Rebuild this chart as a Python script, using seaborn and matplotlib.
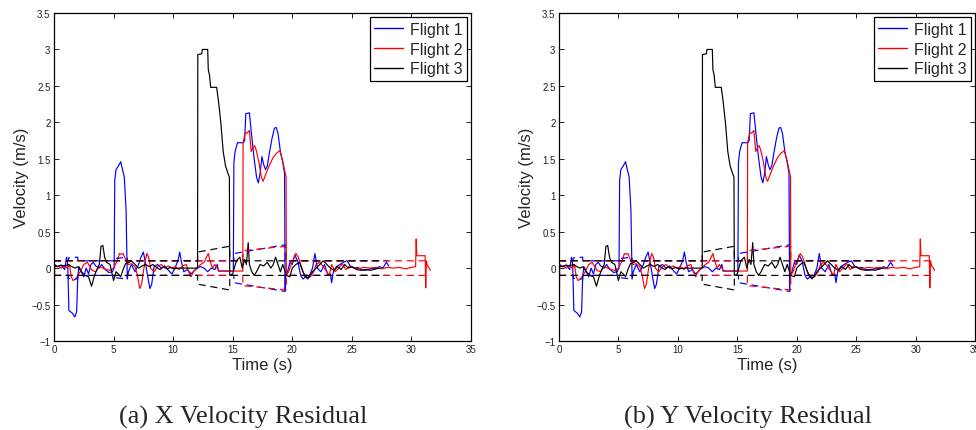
import matplotlib
matplotlib.use("Agg")
import matplotlib.pyplot as plt
import numpy as np
import pandas as pd
import seaborn as sns

# ---- data (both panels show the same traces) ----
flight1_t = [0.0, 0.05, 0.3, 0.6, 0.9, 1.05, 1.15, 1.25, 1.4, 1.55,
             1.75, 1.9, 2.0, 2.1, 2.3, 2.5, 2.7, 2.9, 3.1, 3.3,
             3.5, 3.8, 4.0, 4.3, 4.6, 4.9, 5.05, 5.1, 5.2, 5.4,
             5.6, 5.75, 5.9, 6.05, 6.15, 6.25, 6.5, 6.8, 7.1, 7.3,
             7.5, 7.7, 7.9, 8.05, 8.2, 8.4, 8.7, 9.0, 9.3, 9.6,
             9.9, 10.2, 10.4, 10.55, 10.7, 10.9, 11.2, 11.5, 11.8, 12.0,
             12.3, 12.6, 12.9, 13.2, 13.5, 13.7, 13.8, 15.05, 15.1, 15.2,
             15.4, 15.9, 16.0, 16.1, 16.4, 16.6, 16.8, 17.0, 17.15, 17.3,
             17.45, 17.6, 17.75, 17.9, 18.1, 18.3, 18.5, 18.65, 18.8, 19.0,
             19.2, 19.35, 19.4, 19.45, 19.6, 19.8, 20.0, 20.2, 20.45, 20.7,
             20.9, 21.1, 21.3, 21.5, 21.7, 21.9, 22.1, 22.4, 22.7, 23.0,
             23.2, 23.3, 23.45, 23.7, 24.0, 24.3, 24.6, 24.9, 25.2, 25.5,
             25.8, 26.1, 26.4, 26.7, 27.0, 27.3, 27.6, 27.9, 28.1]
flight1_v = [-0.2, 0.05, 0.02, 0.04, -0.02, 0.15, 0.05, -0.58, -0.6, -0.62,
             -0.67, -0.6, -0.1, 0.02, -0.05, -0.12, 0.0, -0.08, 0.05, 0.08,
             0.03, 0.0, 0.05, -0.02, -0.06, -0.05, 0.0, 1.2, 1.35, 1.4,
             1.46, 1.35, 1.25, 0.8, -0.15, -0.05, 0.05, -0.05, 0.05, 0.15,
             0.22, 0.05, -0.15, -0.28, -0.22, 0.02, 0.05, 0.0, 0.03, -0.03,
             -0.08, 0.02, 0.1, 0.22, 0.08, -0.05, -0.02, -0.08, -0.03, 0.0,
             0.02, 0.0, -0.05, 0.0, -0.02, 0.05, -0.04, -0.04, 1.45, 1.6,
             1.72, 1.72, 1.75, 2.12, 2.13, 1.8, 1.5, 1.25, 1.17, 1.3,
             1.53, 1.42, 1.35, 1.4, 1.6, 1.78, 1.92, 1.93, 1.85, 1.6,
             1.45, 1.3, -0.3, -0.1, -0.05, 0.08, 0.05, 0.18, 0.1, -0.1,
             -0.15, -0.12, -0.15, -0.08, 0.0, 0.2, 0.0, -0.05, 0.05, -0.1,
             -0.08, -0.2, -0.05, 0.02, 0.05, 0.08, 0.1, 0.02, 0.0, 0.01,
             -0.02, -0.03, -0.02, 0.0, -0.01, 0.02, 0.0, 0.08, 0.03]

flight2_t = [0.0, 0.03, 0.06, 0.3, 0.6, 0.9, 1.1, 1.3, 1.45, 1.6,
             1.8, 2.0, 2.2, 2.5, 2.8, 3.0, 3.2, 3.5, 3.8, 4.1,
             4.4, 4.7, 5.0, 5.3, 5.5, 5.65, 5.8, 6.0, 6.2, 6.5,
             6.8, 7.0, 7.2, 7.35, 7.5, 7.65, 7.8, 7.95, 8.1, 8.4,
             8.7, 9.0, 9.3, 9.6, 9.9, 10.2, 10.5, 10.8, 11.1, 11.3,
             11.5, 11.7, 12.0, 12.3, 12.6, 12.8, 12.95, 13.1, 13.3, 13.5,
             13.7, 13.85, 15.85, 15.87, 16.05, 16.2, 16.4, 16.55, 16.7, 16.85,
             17.0, 17.2, 17.4, 17.55, 17.8, 18.1, 18.4, 18.7, 18.95, 19.15,
             19.35, 19.48, 19.5, 19.7, 19.9, 20.1, 20.3, 20.5, 20.7, 20.9,
             21.1, 21.3, 21.5, 21.8, 22.0, 22.3, 22.6, 22.9, 23.1, 23.3,
             23.6, 23.9, 24.2, 24.5, 24.8, 25.1, 25.5, 26.0, 26.5, 27.0,
             27.5, 28.0, 28.5, 29.0, 29.5, 30.0, 30.35, 30.4, 30.45, 30.55,
             31.15, 31.2, 31.25, 31.35, 31.5, 31.6]
flight2_v = [0.47, -0.5, 0.02, 0.03, 0.0, 0.04, 0.0, 0.05, -0.12, -0.17,
             -0.15, -0.1, -0.05, 0.05, 0.08, 0.02, -0.03, -0.05, 0.02, 0.0,
             -0.02, -0.03, 0.0, 0.1, 0.2, 0.19, 0.2, 0.12, 0.05, 0.06,
             0.02, -0.1, -0.28, -0.22, -0.05, 0.1, 0.2, 0.15, 0.0, -0.05,
             0.02, 0.05, 0.0, 0.03, 0.0, 0.02, -0.02, 0.03, 0.05, -0.05,
             -0.12, -0.05, 0.0, 0.05, 0.08, 0.15, 0.2, 0.1, 0.0, 0.05,
             0.0, -0.04, -0.04, 1.72, 1.86, 1.85, 1.89, 1.6, 1.65, 1.68,
             1.6, 1.45, 1.25, 1.19, 1.3, 1.42, 1.52, 1.58, 1.61, 1.5,
             1.35, 1.25, -0.1, -0.05, 0.05, 0.12, 0.2, 0.15, 0.05, -0.05,
             -0.12, -0.1, -0.12, -0.05, 0.05, 0.08, 0.02, -0.05, -0.1, 0.05,
             -0.05, 0.0, 0.06, -0.02, 0.03, 0.01, -0.01, 0.01, 0.0, 0.01,
             -0.01, 0.01, 0.0, 0.01, -0.01, 0.01, 0.02, 0.4, 0.17, 0.17,
             0.17, -0.27, 0.1, 0.03, 0.0, -0.03]

flight3_t = [0.0, 0.03, 0.3, 0.6, 0.9, 1.2, 1.5, 1.8, 2.0, 2.3,
             2.6, 2.9, 3.15, 3.4, 3.6, 3.8, 3.95, 4.1, 4.25, 4.4,
             4.7, 5.0, 5.2, 5.4, 5.6, 5.8, 6.0, 6.3, 6.5, 6.8,
             7.1, 7.4, 7.7, 8.0, 8.3, 8.6, 8.9, 9.2, 9.5, 9.8,
             10.1, 10.5, 11.0, 11.5, 12.05, 12.07, 12.4, 12.45, 12.9, 12.95,
             13.05, 13.15, 13.65, 13.8, 14.0, 14.2, 14.4, 14.6, 14.72, 14.75,
             15.0, 15.3, 15.6, 15.8, 16.0, 16.15, 16.3, 16.4, 16.6, 16.8,
             17.0, 17.3, 17.6, 17.9, 18.2, 18.4, 18.6, 18.8, 19.0, 19.2,
             19.5, 19.8, 20.0, 20.3, 20.6, 20.9, 21.1, 21.4, 21.7, 22.0,
             22.3, 22.6, 22.9, 23.2, 23.5, 23.8, 24.1, 24.4, 24.7, 25.0,
             25.4, 25.8, 26.2, 26.6, 27.0, 27.3]
flight3_v = [-0.45, 0.03, 0.02, 0.04, 0.03, 0.05, 0.02, 0.0, 0.02, -0.05,
             -0.1, -0.12, -0.25, -0.1, -0.02, 0.05, 0.3, 0.31, 0.15, 0.08,
             0.05, -0.17, -0.05, -0.08, -0.12, -0.02, 0.06, 0.08, 0.1, 0.05,
             0.0, 0.03, 0.05, 0.02, 0.05, 0.01, -0.02, 0.02, -0.01, 0.01,
             -0.01, 0.0, 0.0, 0.0, 0.0, 2.93, 2.94, 3.0, 3.0, 2.72,
             2.65, 2.48, 2.48, 2.3, 2.0, 1.6, 1.4, 1.3, 1.25, -0.1,
             -0.08, 0.1, 0.15, 0.0, 0.12, 0.05, 0.35, 0.05, -0.05, -0.1,
             -0.05, 0.05, 0.03, 0.08, 0.0, 0.05, 0.15, 0.05, -0.05, 0.05,
             -0.1, -0.12, 0.0, 0.05, 0.08, -0.05, -0.12, -0.13, -0.05, 0.0,
             0.05, 0.1, 0.05, 0.0, -0.03, 0.02, -0.02, 0.05, 0.0, 0.02,
             -0.02, -0.03, -0.02, -0.03, -0.01, 0.0]

# symmetric residual bounds (dashed), +/- sigma
bound1_t = [0.0, 1.2, 1.2, 2.0, 2.0, 5.05, 5.05, 6.15, 6.15, 15.1, 15.1, 19.4, 19.4, 28.1]
bound1_s = [0.1, 0.1, 0.14, 0.15, 0.1, 0.1, 0.13, 0.15, 0.1, 0.1, 0.2, 0.32, 0.1, 0.1]
bound2_t = [0.0, 15.85, 15.85, 19.5, 19.5, 31.6]
bound2_s = [0.1, 0.1, 0.24, 0.3, 0.1, 0.1]
bound3_t = [0.0, 12.05, 12.05, 14.75, 14.75, 27.3]
bound3_s = [0.1, 0.1, 0.22, 0.3, 0.1, 0.1]

flights = ["Flight 1", "Flight 2", "Flight 3"]
colors = ["#0000ff", "#ff0000", "#000000"]
captions = ["(a) X Velocity Residual", "(b) Y Velocity Residual"]

df = pd.concat([
    pd.DataFrame({"time": flight1_t, "vel": flight1_v, "flight": flights[0]}),
    pd.DataFrame({"time": flight2_t, "vel": flight2_v, "flight": flights[1]}),
    pd.DataFrame({"time": flight3_t, "vel": flight3_v, "flight": flights[2]}),
], ignore_index=True)
bounds = [(bound1_t, bound1_s), (bound2_t, bound2_s), (bound3_t, bound3_s)]

sns.set_style("ticks")
plt.rcParams["font.family"] = ["Liberation Sans", "DejaVu Sans"]

fig = plt.figure(figsize=(9.76, 4.31), dpi=100)
positions = [[54 / 976, 89 / 431, 417 / 976, 328 / 431],
             [559 / 976, 89 / 431, 416 / 976, 328 / 431]]
caption_x = [243 / 976, 748 / 976]

for pos, cap, cx in zip(positions, captions, caption_x):
    ax = fig.add_axes(pos)
    sns.lineplot(data=df, x="time", y="vel", hue="flight", palette=colors,
                 estimator=None, sort=False, linewidth=0.85, ax=ax)
    handles, labels = ax.get_legend_handles_labels()

    # dashed bounds for each flight
    for (bt, bs), c in zip(bounds, colors):
        bs = np.array(bs)
        ax.plot(bt, bs, color=c, lw=0.85, ls=(0, (6, 4)))
        ax.plot(bt, -bs, color=c, lw=0.85, ls=(0, (6, 4)))

    ax.set_xlim(0, 35)
    ax.set_ylim(-1, 3.5)
    ax.set_xticks(np.arange(0, 36, 5))
    ax.set_yticks(np.arange(-1, 3.6, 0.5))
    ax.set_yticklabels(["\u22121", "\u22120.5", "0", "0.5", "1", "1.5", "2", "2.5", "3", "3.5"])
    ax.tick_params(direction="in", top=True, right=True, length=3.5, width=0.6,
                   labelsize=7, pad=2.5, colors="black", labelcolor="#222222")
    for sp in ax.spines.values():
        sp.set_visible(True)
        sp.set_linewidth(0.9)
        sp.set_color("black")
    ax.set_xlabel("Time (s)", fontsize=12, labelpad=2)
    ax.set_ylabel("Velocity (m/s)", fontsize=12, labelpad=2)

    leg = ax.legend(handles[:3], labels[:3], loc="upper right", fontsize=11.5,
                    frameon=True, fancybox=False, framealpha=1, edgecolor="black",
                    borderpad=0.3, labelspacing=0.3, handlelength=1.8,
                    handletextpad=0.4, borderaxespad=0.25)
    leg.get_frame().set_linewidth(0.9)
    for h in leg.get_lines():
        h.set_linewidth(1.0)

    fig.text(cx, 14 / 431, cap, ha="center", va="center", fontsize=19,
             family=["Liberation Serif", "DejaVu Serif"])

fig.savefig("out.png", dpi=100)
